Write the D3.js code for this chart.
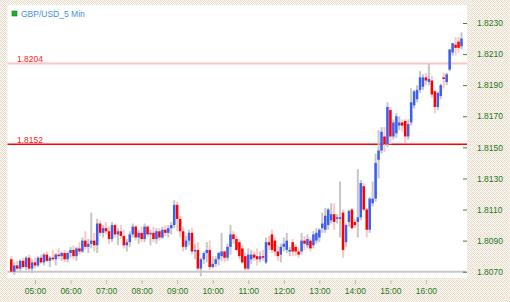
<!DOCTYPE html>
<html>
<head>
<meta charset="utf-8">
<script src="https://cdn.jsdelivr.net/npm/d3@7"></script>
<style>
  body { margin: 0; background: #fff; }
  svg { display: block; }
  text { font-family: "Liberation Sans", Arial, sans-serif; }
</style>
</head>
<body>
<div id="chart"></div>
<script>
const width = 510;
const height = 302;
const plot = { left: 7.5, right: 467, top: 5, bottom: 278 };

// 5 minute candles, 04:20 to 17:00
const startTime = new Date(2010, 0, 4, 4, 20);
const endTime = new Date(2010, 0, 4, 17, 0);

const openVals = [
    1.8078, 1.8070, 1.8074, 1.8072, 1.8077, 1.8073, 1.8079, 1.8072, 1.8076, 1.8074,
    1.8079, 1.8076, 1.8081, 1.8077, 1.8079, 1.8078, 1.8081, 1.8080, 1.8082, 1.8078,
    1.8082, 1.8084, 1.8080, 1.8085, 1.8083, 1.8090, 1.8086, 1.8088, 1.8090, 1.8087,
    1.8101, 1.8095, 1.8098, 1.8096, 1.8091, 1.8100, 1.8094, 1.8096, 1.8093, 1.8087,
    1.8089, 1.8094, 1.8099, 1.8092, 1.8095, 1.8091, 1.8099, 1.8094, 1.8095, 1.8091,
    1.8096, 1.8092, 1.8097, 1.8095, 1.8098, 1.8100, 1.8113, 1.8104, 1.8096, 1.8086,
    1.8090, 1.8095, 1.8083, 1.8084, 1.8072, 1.8078, 1.8082, 1.8084, 1.8073, 1.8075,
    1.8078, 1.8080, 1.8083, 1.8079, 1.8086, 1.8094, 1.8091, 1.8089, 1.8085, 1.8080,
    1.8072, 1.8078, 1.8081, 1.8080, 1.8078, 1.8080, 1.8076, 1.8089, 1.8094, 1.8090,
    1.8083, 1.8081, 1.8086, 1.8084, 1.8083, 1.8089, 1.8086, 1.8083, 1.8083, 1.8090,
    1.8087, 1.8090, 1.8087, 1.8090, 1.8092, 1.8098, 1.8097, 1.8100, 1.8103, 1.8107,
    1.8104, 1.8104, 1.8108, 1.8089, 1.8102, 1.8110, 1.8102, 1.8102, 1.8105, 1.8125,
    1.8110, 1.8097, 1.8114, 1.8117, 1.8142, 1.8148, 1.8157, 1.8152, 1.8174, 1.8157,
    1.8159, 1.8164, 1.8166, 1.8167, 1.8157, 1.8166, 1.8177, 1.8181, 1.8187, 1.8189,
    1.8195, 1.8192, 1.8193, 1.8186, 1.8176, 1.8183, 1.8195, 1.8192, 1.8200, 1.8211,
    1.8216, 1.8218, 1.8215
];
const highVals = [
    1.8080, 1.8076, 1.8077, 1.8078, 1.8079, 1.8080, 1.8081, 1.8078, 1.8079, 1.8080,
    1.8081, 1.8082, 1.8083, 1.8080, 1.8084, 1.8082, 1.8085, 1.8083, 1.8084, 1.8083,
    1.8086, 1.8087, 1.8086, 1.8089, 1.8092, 1.8096, 1.8091, 1.8108, 1.8095, 1.8104,
    1.8103, 1.8100, 1.8102, 1.8099, 1.8102, 1.8101, 1.8098, 1.8100, 1.8097, 1.8091,
    1.8096, 1.8101, 1.8100, 1.8097, 1.8099, 1.8101, 1.8100, 1.8097, 1.8099, 1.8098,
    1.8098, 1.8099, 1.8100, 1.8100, 1.8102, 1.8116, 1.8115, 1.8106, 1.8099, 1.8093,
    1.8097, 1.8098, 1.8088, 1.8089, 1.8079, 1.8083, 1.8089, 1.8090, 1.8080, 1.8080,
    1.8083, 1.8095, 1.8084, 1.8088, 1.8100, 1.8096, 1.8093, 1.8091, 1.8087, 1.8082,
    1.8085, 1.8084, 1.8083, 1.8085, 1.8083, 1.8084, 1.8092, 1.8093, 1.8097, 1.8092,
    1.8087, 1.8088, 1.8092, 1.8095, 1.8086, 1.8091, 1.8088, 1.8085, 1.8095, 1.8093,
    1.8094, 1.8092, 1.8096, 1.8098, 1.8098, 1.8108, 1.8111, 1.8111, 1.8114, 1.8114,
    1.8107, 1.8128, 1.8110, 1.8101, 1.8110, 1.8111, 1.8104, 1.8136, 1.8129, 1.8127,
    1.8111, 1.8118, 1.8128, 1.8146, 1.8161, 1.8163, 1.8163, 1.8179, 1.8176, 1.8168,
    1.8172, 1.8170, 1.8168, 1.8168, 1.8168, 1.8188, 1.8187, 1.8190, 1.8199, 1.8197,
    1.8198, 1.8204, 1.8196, 1.8187, 1.8186, 1.8191, 1.8198, 1.8198, 1.8213, 1.8217,
    1.8221, 1.8221, 1.8224
];
const lowVals = [
    1.8069, 1.8068, 1.8071, 1.8070, 1.8072, 1.8071, 1.8070, 1.8069, 1.8072, 1.8073,
    1.8075, 1.8074, 1.8076, 1.8073, 1.8077, 1.8074, 1.8078, 1.8077, 1.8076, 1.8076,
    1.8079, 1.8078, 1.8077, 1.8081, 1.8082, 1.8084, 1.8082, 1.8085, 1.8083, 1.8082,
    1.8093, 1.8092, 1.8094, 1.8088, 1.8089, 1.8092, 1.8087, 1.8091, 1.8085, 1.8083,
    1.8086, 1.8092, 1.8090, 1.8088, 1.8089, 1.8089, 1.8092, 1.8087, 1.8089, 1.8088,
    1.8090, 1.8091, 1.8093, 1.8092, 1.8094, 1.8098, 1.8096, 1.8092, 1.8083, 1.8084,
    1.8087, 1.8081, 1.8078, 1.8070, 1.8067, 1.8075, 1.8076, 1.8071, 1.8072, 1.8073,
    1.8074, 1.8077, 1.8076, 1.8077, 1.8081, 1.8088, 1.8083, 1.8078, 1.8075, 1.8070,
    1.8071, 1.8075, 1.8077, 1.8074, 1.8076, 1.8077, 1.8075, 1.8084, 1.8082, 1.8080,
    1.8077, 1.8076, 1.8083, 1.8082, 1.8080, 1.8080, 1.8080, 1.8079, 1.8081, 1.8084,
    1.8085, 1.8083, 1.8085, 1.8088, 1.8089, 1.8095, 1.8095, 1.8097, 1.8101, 1.8097,
    1.8101, 1.8092, 1.8079, 1.8086, 1.8099, 1.8097, 1.8098, 1.8092, 1.8103, 1.8109,
    1.8092, 1.8095, 1.8112, 1.8115, 1.8130, 1.8146, 1.8147, 1.8150, 1.8152, 1.8155,
    1.8156, 1.8161, 1.8160, 1.8153, 1.8155, 1.8164, 1.8175, 1.8179, 1.8185, 1.8187,
    1.8190, 1.8190, 1.8182, 1.8172, 1.8174, 1.8181, 1.8188, 1.8190, 1.8199, 1.8209,
    1.8209, 1.8211, 1.8213
];
const closeVals = [
    1.8070, 1.8074, 1.8072, 1.8077, 1.8073, 1.8079, 1.8072, 1.8076, 1.8074, 1.8079,
    1.8076, 1.8081, 1.8077, 1.8079, 1.8078, 1.8081, 1.8080, 1.8082, 1.8078, 1.8082,
    1.8084, 1.8080, 1.8085, 1.8083, 1.8090, 1.8086, 1.8088, 1.8090, 1.8087, 1.8101,
    1.8095, 1.8098, 1.8096, 1.8091, 1.8100, 1.8094, 1.8096, 1.8093, 1.8087, 1.8089,
    1.8094, 1.8099, 1.8092, 1.8095, 1.8091, 1.8099, 1.8094, 1.8095, 1.8091, 1.8096,
    1.8092, 1.8097, 1.8095, 1.8098, 1.8100, 1.8113, 1.8104, 1.8096, 1.8086, 1.8090,
    1.8095, 1.8083, 1.8084, 1.8072, 1.8078, 1.8082, 1.8084, 1.8073, 1.8075, 1.8078,
    1.8082, 1.8083, 1.8079, 1.8086, 1.8094, 1.8091, 1.8084, 1.8080, 1.8076, 1.8072,
    1.8081, 1.8081, 1.8079, 1.8078, 1.8080, 1.8079, 1.8089, 1.8087, 1.8084, 1.8083,
    1.8080, 1.8086, 1.8088, 1.8090, 1.8084, 1.8083, 1.8083, 1.8081, 1.8090, 1.8088,
    1.8091, 1.8085, 1.8094, 1.8095, 1.8097, 1.8101, 1.8106, 1.8110, 1.8107, 1.8102,
    1.8105, 1.8105, 1.8084, 1.8100, 1.8109, 1.8098, 1.8100, 1.8105, 1.8127, 1.8110,
    1.8097, 1.8117, 1.8117, 1.8140, 1.8148, 1.8160, 1.8152, 1.8176, 1.8157, 1.8166,
    1.8170, 1.8166, 1.8164, 1.8157, 1.8165, 1.8179, 1.8186, 1.8187, 1.8195, 1.8195,
    1.8193, 1.8194, 1.8184, 1.8176, 1.8185, 1.8190, 1.8194, 1.8197, 1.8213, 1.8217,
    1.8214, 1.8214, 1.8220
];

const yTicks = [1.8070, 1.8090, 1.8110, 1.8130, 1.8150, 1.8170, 1.8190, 1.8210, 1.8230];
const xTickHours = [5, 6, 7, 8, 9, 10, 11, 12, 13, 14, 15, 16];
const levelLines = [
    { value: 1.8204, label: "1.8204", color: "#ffc4c4", labelColor: "#ff2020", width: 2 },
    { value: 1.8152, label: "1.8152", color: "#ff0000", labelColor: "#ff2020", width: 1.5 }
];
const title = "GBP/USD_5 Min";

const times = d3.timeMinute.every(5).range(startTime, d3.timeMinute.offset(endTime, 1));
const candles = times.map((t, i) => ({
    t,
    o: openVals[i],
    h: highVals[i],
    l: lowVals[i],
    c: closeVals[i]
}));

const svg = d3
    .select("#chart")
    .append("svg")
    .attr("width", width)
    .attr("height", height);

// dithered background pattern like the original
const defs = svg.append("defs");
const pat = defs
    .append("pattern")
    .attr("id", "dither")
    .attr("width", 4)
    .attr("height", 4)
    .attr("patternUnits", "userSpaceOnUse");
pat.append("rect").attr("width", 4).attr("height", 4).attr("fill", "#fbf8ee");
const dots = [
    [0, 0, "#d6d6d6"], [2, 0, "#f2e8c4"], [1, 1, "#f6d6d0"], [3, 1, "#dcdcdc"],
    [0, 2, "#efe6c2"], [2, 2, "#d8d8d8"], [1, 3, "#e4e4e4"], [3, 3, "#f6dcd4"]
];
dots.forEach(([px, py, col]) =>
    pat.append("rect").attr("x", px).attr("y", py).attr("width", 1).attr("height", 1).attr("fill", col)
);

svg.append("rect").attr("width", width).attr("height", height).attr("fill", "url(#dither)");
svg
    .append("rect")
    .attr("x", plot.left)
    .attr("y", plot.top)
    .attr("width", plot.right - plot.left)
    .attr("height", plot.bottom - plot.top)
    .attr("fill", "#fff");

const x = d3.scaleTime().domain([startTime, endTime]).range([11.3, 461.5]);
const y = d3.scaleLinear().domain([1.807, 1.823]).range([271.7, 23]);

// baseline
svg
    .append("line")
    .attr("x1", plot.left)
    .attr("x2", plot.right - 1)
    .attr("y1", y(1.807))
    .attr("y2", y(1.807))
    .attr("stroke", "#c8c8c8")
    .attr("stroke-width", 2);

// level lines
levelLines.forEach((lv) => {
    svg
        .append("line")
        .attr("x1", plot.left)
        .attr("x2", plot.right)
        .attr("y1", y(lv.value))
        .attr("y2", y(lv.value))
        .attr("stroke", lv.color)
        .attr("stroke-width", lv.width);
    svg
        .append("text")
        .attr("x", 17)
        .attr("y", y(lv.value) - 1.5)
        .attr("font-size", 8.5)
        .attr("fill", lv.labelColor)
        .text(lv.label);
});

// candles
const cg = svg.append("g");
cg.selectAll("rect.wick")
    .data(candles)
    .join("rect")
    .attr("class", "wick")
    .attr("x", (d) => x(d.t) - 1)
    .attr("width", 2)
    .attr("y", (d) => y(d.h))
    .attr("height", (d) => Math.max(1, y(d.l) - y(d.h)))
    .attr("fill", (d) => (d.c >= d.o ? "#c6c6c6" : "#ffc6c6"));

cg.selectAll("rect.body")
    .data(candles)
    .join("rect")
    .attr("class", "body")
    .attr("x", (d) => x(d.t) - 1.25)
    .attr("width", 2.5)
    .attr("y", (d) => y(Math.max(d.o, d.c)))
    .attr("height", (d) => Math.max(1, Math.abs(y(d.o) - y(d.c))))
    .attr("fill", (d) => (d.c >= d.o ? "#3d5ef2" : "#ff0000"));

// right price axis
const yAxis = svg
    .append("g")
    .attr("transform", `translate(463,0)`)
    .call(
        d3.axisRight(y)
            .tickValues(yTicks)
            .tickSize(4)
            .tickPadding(10)
            .tickFormat(d3.format(".4f"))
    );
yAxis.select(".domain").remove();
yAxis.selectAll(".tick line").attr("stroke", "#2e8b2e");
yAxis.selectAll(".tick text").attr("fill", "#1f7a1f").attr("font-size", 8.5).attr("font-family", null);

// time axis
const xAxis = svg
    .append("g")
    .attr("transform", `translate(0,280)`)
    .call(
        d3.axisBottom(x)
            .tickValues(xTickHours.map((h) => new Date(2010, 0, 4, h, 0)))
            .tickSize(4)
            .tickPadding(4)
            .tickFormat(d3.timeFormat("%H:%M"))
    );
xAxis.select(".domain").remove();
xAxis.selectAll(".tick line").attr("stroke", "#b8b8b8");
xAxis.selectAll(".tick text").attr("fill", "#1f7a1f").attr("font-size", 8.5).attr("font-family", null);

// title
svg
    .append("rect")
    .attr("x", 12)
    .attr("y", 11)
    .attr("width", 5)
    .attr("height", 5)
    .attr("fill", "#22b022")
    .attr("stroke", "#138013")
    .attr("stroke-width", 0.6);
svg
    .append("text")
    .attr("x", 21)
    .attr("y", 17)
    .attr("font-size", 8.5)
    .attr("fill", "#3d8fe8")
    .text(title);
</script>
</body>
</html>
